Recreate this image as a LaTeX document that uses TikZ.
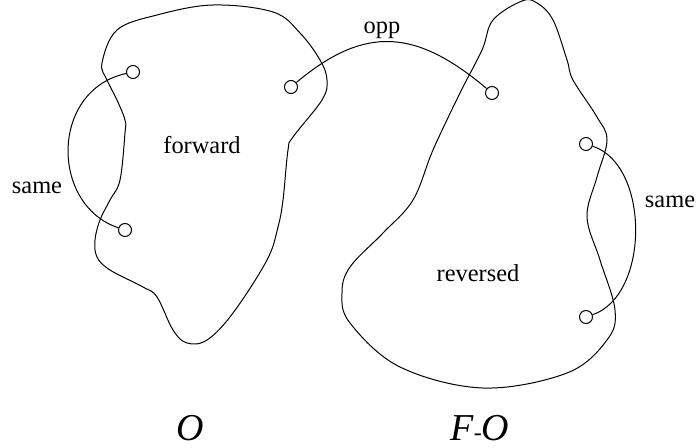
\documentclass[tikz,border=0pt]{standalone}
\usepackage{fontspec}
\setmainfont{Liberation Serif}
\begin{document}
\begin{tikzpicture}[x=0.5pt,y=-0.5pt,line width=0.5pt,
  port/.style={circle,draw,fill=white,inner sep=0pt,minimum size=6.5pt},
  lbl/.style={font=\fontsize{12.2}{14}\selectfont,inner sep=0pt},
  big/.style={font=\fontsize{19}{22}\selectfont\itshape,inner sep=0pt},
  blob/.style={draw,smooth cycle,tension=0.6}]
\useasboundingbox (0,0) rectangle (700,448);
% left region
\draw plot[smooth cycle,tension=0.6] coordinates {
 (102,63) (117,30) (157,15) (213,5) (273,12) (300,33) (320,60) (327,80)
 (322,100) (293,137) (288,150) (283,200) (278,227) (267,260) (233,313)
 (207,340) (187,343) (173,330) (157,297) (143,287) (110,270) (97,257)
 (95,240) (100,220) (110,200) (120,180) (125,133) (125,120) (117,100) (107,80)};
% right region
\draw plot[smooth cycle,tension=0.6] coordinates {
 (522,1) (493,20) (482,50) (460,93) (433,150) (413,200) (383,233) (350,267)
 (342,293) (350,323) (400,367) (483,388) (567,373) (607,340) (615,310)
 (600,260) (587,217) (597,177) (607,140) (597,117) (573,80) (567,60)
 (553,20) (537,3)};
% ports
\node[port] (a1) at (133,72) {};
\node[port] (a2) at (125,230) {};
\node[port] (f) at (291,87) {};
\node[port] (r) at (492,93) {};
\node[port] (b1) at (586,144) {};
\node[port] (b2) at (586,317) {};
% connectors
\draw (a1) .. controls (50,90) and (50,205) .. (a2);
\draw (f) .. controls (366,24) and (417,30) .. (r);
\draw (b1) .. controls (650,165) and (650,295) .. (b2);
% labels
\node[lbl] (t1) at (202,145) {forward};
\node[lbl] (t2) at (478,273) {reversed};
\node[lbl] (t3) at (37,188) {same};
\node[lbl] (t4) at (670,202) {same};
\node[lbl] (t5) at (382,30) {opp};
\node[big] (t6) at (190,428) {O};
\node[big] (t7) at (480,428) {F{\upshape\fontsize{12}{14}\selectfont -}O};
\end{tikzpicture}
\end{document}
